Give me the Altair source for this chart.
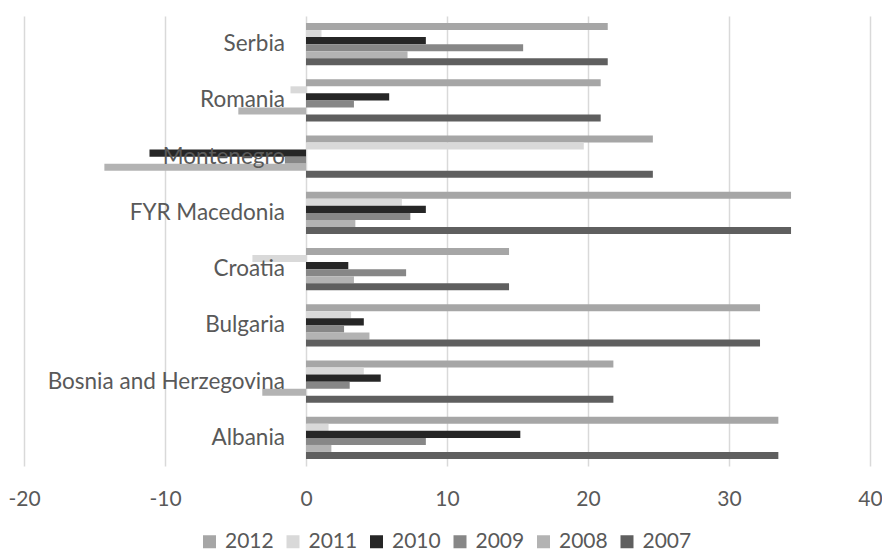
import altair as alt
import pandas as pd

countries = ["Serbia", "Romania", "Montenegro", "FYR Macedonia", "Croatia",
             "Bulgaria", "Bosnia and Herzegovina", "Albania"]
years = ["2012", "2011", "2010", "2009", "2008", "2007"]

v2012 = [21.4, 20.9, 24.6, 34.4, 14.4, 32.2, 21.8, 33.5]
v2011 = [1.1, -1.1, 19.7, 6.8, -3.8, 3.2, 4.1, 1.6]
v2010 = [8.5, 5.9, -11.1, 8.5, 3.0, 4.1, 5.3, 15.2]
v2009 = [15.4, 3.4, -1.5, 7.4, 7.1, 2.7, 3.1, 8.5]
v2008 = [7.2, -4.8, -14.3, 3.5, 3.4, 4.5, -3.1, 1.8]
v2007 = [21.4, 20.9, 24.6, 34.4, 14.4, 32.2, 21.8, 33.5]

colors = ["#a6a6a6", "#d9d9d9", "#262626", "#878787", "#b3b3b3", "#5f5f5f"]

series = {"2012": v2012, "2011": v2011, "2010": v2010,
          "2009": v2009, "2008": v2008, "2007": v2007}
rows = []
for y in years:
    for c, v in zip(countries, series[y]):
        rows.append({"country": c, "year": y, "value": v})
df = pd.DataFrame(rows)
lab = pd.DataFrame({"country": countries})

FONT = "Lato"
TXT = "#595959"

yscale = alt.Scale(domain=countries, paddingInner=0.25, paddingOuter=0.125)

bars = alt.Chart(df).mark_bar().encode(
    x=alt.X("value:Q",
            scale=alt.Scale(domain=[-20, 40], nice=False, zero=False),
            axis=alt.Axis(values=[-20, -10, 0, 10, 20, 30, 40], title=None,
                          grid=True, gridColor="#d9d9d9", gridWidth=1.5,
                          domain=False, ticks=False, tickSize=0,
                          labelFlush=False, labelOverlap=False,
                          labelExpr="toString(datum.value)",
                          labelFont=FONT, labelFontSize=21, labelColor=TXT,
                          labelPadding=22)),
    y=alt.Y("country:N", scale=yscale, axis=None),
    yOffset=alt.YOffset("year:N", sort=years,
                        scale=alt.Scale(paddingInner=0, paddingOuter=0)),
    color=alt.Color("year:N",
                    scale=alt.Scale(domain=years, range=colors),
                    legend=alt.Legend(title=None, orient="none",
                                      direction="horizontal",
                                      legendX=175, legendY=515,
                                      symbolType="square", symbolSize=169,
                                      symbolStrokeWidth=0, labelFont=FONT,
                                      labelFontSize=21, labelColor=TXT,
                                      labelOffset=5, columnPadding=8.5,
                                      padding=0)),
)

labels = alt.Chart(lab).mark_text(
    align="right", baseline="middle", dx=-21, font=FONT, fontSize=22.5, color=TXT
).encode(
    x=alt.datum(0),
    y=alt.Y("country:N", scale=yscale, axis=None),
    text="country:N",
)

chart = alt.layer(bars, labels).properties(
    width=846, height=450,
    autosize=alt.AutoSizeParams(type="none"),
    padding={"left": 16, "top": 8, "right": 12, "bottom": 86},
).configure_view(stroke=None)

chart.save("out.html", embed_options={"renderer": "svg", "actions": False})
